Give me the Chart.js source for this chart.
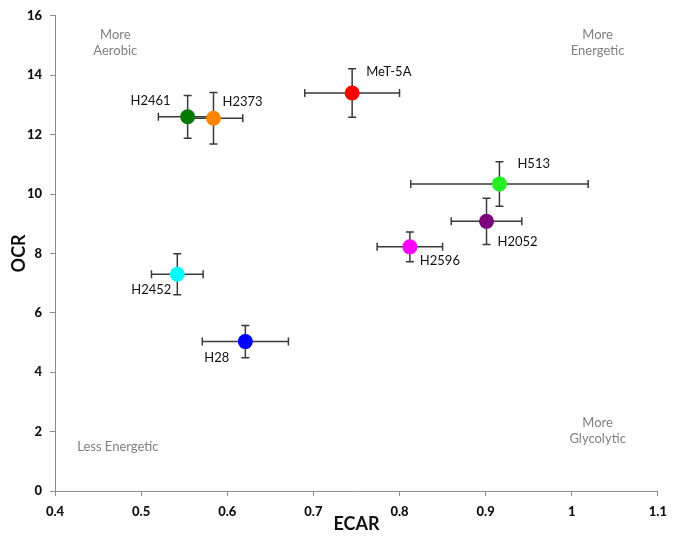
<!DOCTYPE html>
<html>
<head>
<meta charset="utf-8">
<script src="https://cdn.jsdelivr.net/npm/chart.js@4.4.1/dist/chart.umd.min.js"></script>
<style>
  html, body { margin: 0; padding: 0; background: #fff; }
  #wrap { width: 675px; height: 546px; }
</style>
</head>
<body>
<div id="wrap"><canvas id="chart" width="675" height="546"></canvas></div>
<script>
// cell lines, ECAR (x) and OCR (y) with their error bars
const cellLines = ["MeT-5A", "H2461", "H2373", "H513", "H2052", "H2596", "H2452", "H28"];
const ecar      = [0.745, 0.554, 0.584, 0.916, 0.901, 0.812, 0.542, 0.621];
const ecarErr   = [0.055, 0.034, 0.034, 0.103, 0.041, 0.038, 0.030, 0.050];
const ocr       = [13.40, 12.60, 12.55, 10.34, 9.08, 8.22, 7.30, 5.03];
const ocrErr    = [0.82, 0.72, 0.87, 0.75, 0.78, 0.50, 0.69, 0.54];

const xTicks = [0.4, 0.5, 0.6, 0.7, 0.8, 0.9, 1, 1.1];
const yTicks = [0, 2, 4, 6, 8, 10, 12, 14, 16];

const quadrantNotes = [
  { lines: ["More", "Aerobic"], x: 0.47, y: 15.35 },
  { lines: ["More", "Energetic"], x: 1.03, y: 15.35 },
  { lines: ["More", "Glycolytic"], x: 1.03, y: 2.28 },
  { lines: ["Less Energetic"], x: 0.473, y: 1.5 }
];

// styling
const colors = ["#ff0000", "#007a00", "#ff8400", "#22f022", "#7d007d", "#ff00ff", "#00ffff", "#0000ff"];
// label placement in pixels relative to the marker
const labelOffsets = [[14, -21, "left"], [-17, -16, "right"], [9, -16, "left"], [18, -20, "left"],
                      [11, 20, "left"], [10, 14, "left"], [-6, 16, "right"], [-16, 16, "right"]];

const FONT = "Lato, 'Open Sans', sans-serif";

const datasets = cellLines.map((name, i) => ({
  label: name,
  data: [{ x: ecar[i], y: ocr[i] }],
  backgroundColor: colors[i],
  borderColor: colors[i],
  pointRadius: 7.5,
  pointHoverRadius: 7.5,
  borderWidth: 0
}));

const errorBars = {
  id: "errorBars",
  beforeDatasetsDraw(chart) {
    const { ctx, scales: { x, y } } = chart;
    const cap = 4;
    ctx.save();
    ctx.strokeStyle = "#3a3a3a";
    ctx.lineWidth = 1.5;
    cellLines.forEach((_, i) => {
      const px = x.getPixelForValue(ecar[i]);
      const py = y.getPixelForValue(ocr[i]);
      const x0 = x.getPixelForValue(ecar[i] - ecarErr[i]);
      const x1 = x.getPixelForValue(ecar[i] + ecarErr[i]);
      const y0 = y.getPixelForValue(ocr[i] - ocrErr[i]);
      const y1 = y.getPixelForValue(ocr[i] + ocrErr[i]);
      ctx.beginPath();
      ctx.moveTo(x0, py); ctx.lineTo(x1, py);
      ctx.moveTo(x0, py - cap); ctx.lineTo(x0, py + cap);
      ctx.moveTo(x1, py - cap); ctx.lineTo(x1, py + cap);
      ctx.moveTo(px, y0); ctx.lineTo(px, y1);
      ctx.moveTo(px - cap, y0); ctx.lineTo(px + cap, y0);
      ctx.moveTo(px - cap, y1); ctx.lineTo(px + cap, y1);
      ctx.stroke();
    });
    ctx.restore();
  },
  afterDatasetsDraw(chart) {
    const { ctx, scales: { x, y } } = chart;
    ctx.save();
    ctx.font = "13px " + FONT;
    ctx.fillStyle = "#111";
    ctx.textBaseline = "middle";
    cellLines.forEach((name, i) => {
      const [dx, dy, align] = labelOffsets[i];
      ctx.textAlign = align;
      ctx.fillText(name, x.getPixelForValue(ecar[i]) + dx, y.getPixelForValue(ocr[i]) + dy);
    });
    ctx.font = "13px " + FONT;
    ctx.fillStyle = "#808080";
    ctx.textAlign = "center";
    quadrantNotes.forEach(n => {
      const cx = x.getPixelForValue(n.x);
      const cy = y.getPixelForValue(n.y);
      n.lines.forEach((t, k) => ctx.fillText(t, cx, cy + k * 16));
    });
    ctx.restore();
  }
};

new Chart(document.getElementById("chart"), {
  type: "scatter",
  data: { datasets },
  plugins: [errorBars],
  options: {
    responsive: false,
    animation: false,
    layout: { padding: { top: 10, right: 12, left: 0, bottom: 0 } },
    plugins: { legend: { display: false }, tooltip: { enabled: false } },
    scales: {
      x: {
        type: "linear",
        min: 0.4,
        max: 1.1,
        afterBuildTicks: s => { s.ticks = xTicks.map(v => ({ value: v })); },
        afterFit: s => { s.height = 55; },
        grid: { drawOnChartArea: false, drawTicks: true, tickLength: 5, color: "#8c8c8c" },
        border: { color: "#8c8c8c", width: 1 },
        ticks: {
          color: "#111",
          padding: 8,
          font: { family: FONT, size: 13, weight: "900" },
          callback: v => String(v)
        },
        title: {
          display: true,
          text: "ECAR",
          color: "#111",
          padding: { top: 0, bottom: 11 },
          font: { family: FONT, size: 18, weight: "bold" }
        }
      },
      y: {
        type: "linear",
        min: 0,
        max: 16,
        afterBuildTicks: s => { s.ticks = yTicks.map(v => ({ value: v })); },
        afterFit: s => { s.width = 55; },
        grid: { drawOnChartArea: false, drawTicks: true, tickLength: 5, color: "#8c8c8c" },
        border: { color: "#8c8c8c", width: 1 },
        ticks: {
          color: "#111",
          padding: 8,
          font: { family: FONT, size: 13, weight: "900" }
        },
        title: {
          display: true,
          text: "OCR",
          color: "#111",
          padding: { top: 8 },
          font: { family: FONT, size: 18, weight: "bold" }
        }
      }
    }
  }
});
</script>
</body>
</html>
